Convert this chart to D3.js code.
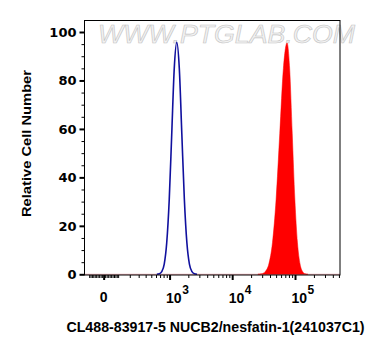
<!DOCTYPE html>
<html><head><meta charset="utf-8">
<script src="https://cdn.jsdelivr.net/npm/d3@7"></script>
<style>html,body{margin:0;padding:0;background:#fff;}svg{display:block;}</style>
</head><body>
<svg id="c" width="381" height="356"></svg>
<script>
// ---- data ----
const blueX = [619, 680, 746, 819, 899, 988, 1084, 1190, 1306, 1434, 1574, 1728, 1897, 2082, 2286, 2509, 2754];
const blueY = [0.03, 0.2, 1.1, 4.2, 13, 31, 58, 85, 95.7, 85, 58, 31, 13, 4.2, 1.1, 0.2, 0.03];
const redX = [25645, 29309, 33497, 38282, 43752, 50003, 57148, 65313, 74645, 82130, 90365, 99426, 109396, 120366, 132434, 145714, 160325];
const redY = [0.03, 0.2, 1.1, 4.2, 13, 31, 58, 85, 95.5, 85, 58, 31, 13, 4.2, 1.1, 0.2, 0.03];
const yTicks = [0, 20, 40, 60, 80, 100];
const xMajorTicks = [0, 1000, 10000, 100000];
const xMajorLabels = ["0", "10|3", "10|4", "10|5"];
const xMinorTicks = [-100,-90,-80,-70,-60,-50,-40,-30,-20,-10,10,20,30,40,50,60,70,80,90,100,
  200,300,400,500,600,700,800,900,2000,3000,4000,5000,6000,7000,8000,9000,
  20000,30000,40000,50000,60000,70000,80000,90000,200000,300000,400000,500000];
const xTitle = "CL488-83917-5 NUCB2/nesfatin-1(241037C1)";
const yTitle = "Relative Cell Number";
const watermark = "WWW.PTGLAB.COM";

// ---- layout ----
const L = 84.5, R = 340, T = 20.5, B = 275;
const C = 90;
const tf = v => Math.asinh(v / (2 * C)) / Math.LN10 + Math.log10(C);
const xMin = -137, xMax = 520000;
const xs = d3.scaleLinear().domain([tf(xMin), tf(xMax)]).range([L, R]);
const x = v => xs(tf(v));
const y = d3.scaleLinear().domain([0, 100]).range([274.3, 32]);

const svg = d3.select("#c");
const font = "'Liberation Sans', Arial, sans-serif";
const font2 = "'DejaVu Sans', Verdana, sans-serif";

// watermark
svg.append("text").attr("x", 98).attr("y", 43).attr("font-family", font)
  .attr("font-size", 25).attr("textLength", 257).attr("lengthAdjust", "spacingAndGlyphs")
  .attr("fill", "#f2f2f2").attr("stroke", "#c4c4c4").attr("stroke-width", 0.6)
  .attr("font-style", "italic").text(watermark);

// baseline
svg.append("line").attr("x1", L).attr("x2", R).attr("y1", y(0)).attr("y2", y(0))
  .attr("stroke", "#e8a0a8").attr("stroke-width", 1);

// red filled histogram
const redData = redX.map((v, i) => [v, redY[i]]);
svg.append("path").datum(redData)
  .attr("d", d3.area().x(d => x(d[0])).y0(y(0)).y1(d => y(d[1])).curve(d3.curveMonotoneX))
  .attr("fill", "#ff0000").attr("stroke", "#ff0000").attr("stroke-width", 0.5);

// blue line histogram
const blueData = blueX.map((v, i) => [v, blueY[i]]);
svg.append("path").datum(blueData)
  .attr("d", d3.line().x(d => x(d[0])).y(d => y(d[1])).curve(d3.curveMonotoneX))
  .attr("fill", "none").attr("stroke", "#10109e").attr("stroke-width", 1.6);

// frame
svg.append("rect").attr("x", L).attr("y", T).attr("width", R - L).attr("height", B - T)
  .attr("fill", "none").attr("stroke", "#000").attr("stroke-width", 1);

// y axis ticks
const yMinor = d3.range(0, 101, 5).filter(v => v % 20 !== 0);
const yAxisMajor = d3.axisLeft(y).tickValues(yTicks).tickSize(5).tickPadding(3).tickFormat(d3.format("d"));
const gy = svg.append("g").attr("transform", `translate(${L},0)`).call(yAxisMajor);
gy.select(".domain").remove();
gy.selectAll(".tick line").attr("stroke-width", 2);
gy.selectAll(".tick text").attr("font-family", font2).attr("font-weight", "bold").attr("font-size", 13).attr("fill", "#000");
const gym = svg.append("g").attr("transform", `translate(${L},0)`)
  .call(d3.axisLeft(y).tickValues(yMinor).tickSize(3).tickFormat(""));
gym.select(".domain").remove();

// x axis ticks
const gxm = svg.append("g").attr("transform", `translate(0,${B})`)
  .call(d3.axisBottom(xs).tickValues(xMinorTicks.map(tf)).tickSize(3).tickFormat(""));
gxm.select(".domain").remove();
const gx = svg.append("g").attr("transform", `translate(0,${B})`)
  .call(d3.axisBottom(xs).tickValues(xMajorTicks.map(tf)).tickSize(5).tickFormat(""));
gx.select(".domain").remove();
gx.selectAll(".tick line").attr("stroke-width", 2);

// x tick labels
xMajorTicks.forEach((v, i) => {
  const parts = xMajorLabels[i].split("|");
  const px = x(v);
  if (parts.length === 1) {
    svg.append("text").attr("x", px).attr("y", 302).attr("text-anchor", "middle")
      .attr("font-family", font).attr("font-weight", "bold").attr("font-size", 14).text(parts[0]);
  } else {
    const t = svg.append("text").attr("x", px - 3.5).attr("y", 303)
      .attr("font-family", font).attr("font-weight", "bold").attr("font-size", 14);
    t.append("tspan").text(parts[0]);
    t.append("tspan").attr("dy", -9).attr("dx", 0.5).attr("font-size", 12).text(parts[1]);
  }
});

// titles
svg.append("text").attr("x", 215.5).attr("y", 332).attr("text-anchor", "middle")
  .attr("font-family", font).attr("font-weight", "bold").attr("font-size", 14.2).text(xTitle);
svg.append("text").attr("transform", "translate(31,143.5) rotate(-90)").attr("text-anchor", "middle")
  .attr("font-family", font).attr("font-weight", "bold").attr("font-size", 13)
  .attr("textLength", 147).attr("lengthAdjust", "spacingAndGlyphs").text(yTitle);
</script>
</body></html>
